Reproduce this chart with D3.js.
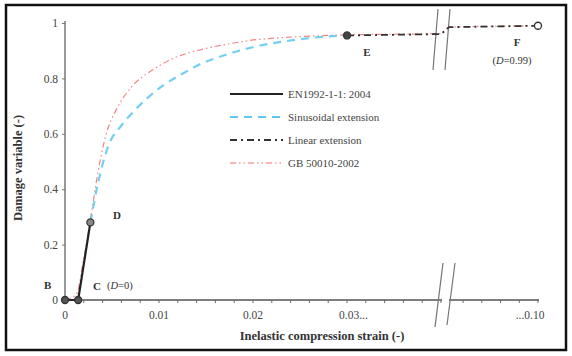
<!DOCTYPE html>
<html><head><meta charset="utf-8">
<script src="https://cdn.jsdelivr.net/npm/d3@7"></script>
<style>body{margin:0;background:#fff}svg{display:block}text{font-family:"Liberation Serif","Times New Roman",serif}</style>
</head><body><svg id="c" width="572" height="356"></svg>
<script>
// ---- data ----
const yTicks = [0, 0.2, 0.4, 0.6, 0.8, 1];
const yTickLabels = ["0", "0.2", "0.4", "0.6", "0.8", "1"];
const xLabelTicks = [0, 0.01, 0.02, 0.03, 0.10];
const xTickLabels = ["0", "0.01", "0.02", "0.03...", "...0.10"];
const xMinorLeft = d3.range(0, 0.0401, 0.002);
const xMinorRight = [0.092, 0.094, 0.096, 0.098, 0.100];
const enStrain = [0, 0.0014, 0.0027];
const enDamage = [0, 0, 0.28];
const sinStrain = [0.0027, 0.0035, 0.0046, 0.006, 0.0074, 0.0088, 0.0103, 0.0124, 0.0146, 0.0162, 0.0185, 0.0207, 0.024, 0.027, 0.03];
const sinDamage = [0.28, 0.42, 0.556, 0.63, 0.684, 0.73, 0.771, 0.815, 0.855, 0.875, 0.9, 0.918, 0.937, 0.949, 0.955];
const linStrain = [0.03, 0.04, 0.0905, 0.10];
const linDamage = [0.955, 0.96, 0.985, 0.99];
const gbStrain = [0, 0.0012, 0.002, 0.0028, 0.0035, 0.0043, 0.0055, 0.0071, 0.0093, 0.0117, 0.0146, 0.0175, 0.0197, 0.025, 0.03, 0.04, 0.0905, 0.10];
const gbDamage = [0, 0.02, 0.15, 0.31, 0.46, 0.589, 0.69, 0.77, 0.83, 0.875, 0.905, 0.925, 0.937, 0.951, 0.957, 0.962, 0.985, 0.99];
const points = [
  {name:"B", x:0, y:0, fill:"#555"},
  {name:"C", x:0.0014, y:0, fill:"#555"},
  {name:"D", x:0.0027, y:0.28, fill:"#888"},
  {name:"E", x:0.03, y:0.955, fill:"#444"},
  {name:"F", x:0.10, y:0.99, fill:"#fff"}
];
const legendLabels = ["EN1992-1-1: 2004", "Sinusoidal extension", "Linear extension", "GB 50010-2002"];

// ---- chart ----
const svg = d3.select("#c");
const x = d3.scaleLinear().domain([0, 0.04, 0.0905, 0.10]).range([65, 441, 449, 538]);
const y = d3.scaleLinear().domain([0, 1]).range([300, 23]);

svg.append("rect").attr("x", 6).attr("y", 5).attr("width", 560).attr("height", 345)
  .attr("fill", "none").attr("stroke", "#111").attr("stroke-width", 2.5);

// y axis
const gy = svg.append("g").attr("transform", "translate(65,0)")
  .call(d3.axisLeft(y).tickValues(yTicks).tickFormat((d,i)=>yTickLabels[i]).tickSize(3).tickPadding(4));
gy.select(".domain").attr("stroke", "#777").attr("stroke-width", 1.5).attr("d", `M0,${y(1)-2}V${y(0)}`);
gy.selectAll(".tick line").attr("stroke", "#777");
gy.selectAll(".tick text").attr("font-size", 11.5).attr("fill", "#444");

// x axis
const gx = svg.append("g").attr("transform", "translate(0,300)");
gx.append("path").attr("d", `M${x(0)},0H${x(0.04)+1}`).attr("stroke", "#555").attr("stroke-width", 1.5);
gx.append("path").attr("d", `M${x(0.0905)},0H${x(0.10)+1}`).attr("stroke", "#555").attr("stroke-width", 1.5);
gx.selectAll("line.minor").data(xMinorLeft.concat(xMinorRight)).enter().append("line")
  .attr("x1", d=>x(d)).attr("x2", d=>x(d)).attr("y1", 0).attr("y2", 3).attr("stroke", "#666");
gx.selectAll("text.tl").data(xLabelTicks).enter().append("text")
  .attr("x", (d,i)=> i===3 ? x(d)-8 : (i===4 ? x(d)-8 : x(d))).attr("y", 19)
  .attr("text-anchor", (d,i)=> i===3 ? "start" : "middle")
  .attr("font-size", 11.5).attr("fill", "#444")
  .text((d,i)=>xTickLabels[i]);

// break marks
function brk(x1, y1, x2, y2) {
  svg.append("line").attr("x1", x1).attr("y1", y1).attr("x2", x2).attr("y2", y2)
    .attr("stroke", "#777").attr("stroke-width", 1.2);
}
brk(438, 9, 433, 70); brk(450, 9, 445, 70);
brk(443, 263, 435, 327); brk(455, 263, 447, 325);

// axis titles
svg.append("text").attr("x", 322).attr("y", 340).attr("text-anchor", "middle")
  .attr("font-size", 12.5).attr("font-weight", "bold").attr("fill", "#333")
  .text("Inelastic compression strain (-)");
svg.append("text").attr("transform", "translate(22,168) rotate(-90)").attr("text-anchor", "middle")
  .attr("font-size", 12.5).attr("font-weight", "bold").attr("fill", "#333")
  .text("Damage variable (-)");

const line = d3.line().x(d=>x(d[0])).y(d=>y(d[1])).curve(d3.curveMonotoneX);
const zip = (a,b)=>a.map((v,i)=>[v,b[i]]);

const styles = [
  {stroke:"#222", w:2.2, dash:null},
  {stroke:"#5cc8ee", w:2.2, dash:"8,6"},
  {stroke:"#333", w:1.8, dash:"7,4,2,4"},
  {stroke:"#f07070", w:1.2, dash:"6,3,1.5,3,1.5,3"}
];

svg.append("path").attr("d", line(zip(gbStrain, gbDamage))).attr("fill","none")
  .attr("stroke", styles[3].stroke).attr("stroke-width", styles[3].w).attr("stroke-dasharray", styles[3].dash).attr("opacity",0.85);
svg.append("path").attr("d", line(zip(sinStrain, sinDamage))).attr("fill","none")
  .attr("stroke", styles[1].stroke).attr("stroke-width", styles[1].w).attr("stroke-dasharray", styles[1].dash).attr("opacity",0.85);
svg.append("path").attr("d", d3.line().x(d=>x(d[0])).y(d=>y(d[1]))(zip(linStrain, linDamage))).attr("fill","none")
  .attr("stroke", styles[2].stroke).attr("stroke-width", styles[2].w).attr("stroke-dasharray", styles[2].dash);
svg.append("path").attr("d", d3.line().x(d=>x(d[0])).y(d=>y(d[1]))(zip(enStrain, enDamage))).attr("fill","none")
  .attr("stroke", styles[0].stroke).attr("stroke-width", styles[0].w);

svg.selectAll("circle.pt").data(points).enter().append("circle")
  .attr("cx", d=>x(d.x)).attr("cy", d=>y(d.y)).attr("r", 3.5)
  .attr("fill", d=>d.fill).attr("stroke", "#333").attr("stroke-width", 1.3);

// point labels
const lab = (tx, ty, t, anchor) => svg.append("text").attr("x", tx).attr("y", ty)
  .attr("text-anchor", anchor || "start").attr("font-size", 11).attr("font-weight", "bold").attr("fill", "#333").text(t);
lab(44, 289, "B");
lab(93, 290, "C");
svg.append("text").attr("x", 107).attr("y", 289).attr("font-size", 10.5).attr("fill", "#333")
  .html('(<tspan font-style="italic">D</tspan>=0)');
lab(113, 219, "D");
lab(367, 56, "E", "middle");
lab(517, 46, "F", "middle");
svg.append("text").attr("x", 512).attr("y", 64).attr("text-anchor", "middle").attr("font-size", 10.5).attr("fill", "#333")
  .html('(<tspan font-style="italic">D</tspan>=0.99)');

// legend
const lg = svg.append("g");
legendLabels.forEach((t, i) => {
  const yy = 94 + i * 23;
  lg.append("line").attr("x1", 230).attr("x2", 283).attr("y1", yy).attr("y2", yy)
    .attr("stroke", styles[i].stroke).attr("stroke-width", styles[i].w)
    .attr("stroke-dasharray", styles[i].dash);
  lg.append("text").attr("x", 288).attr("y", yy + 4).attr("font-size", 11).attr("fill", "#444").text(t);
});
</script></body></html>
